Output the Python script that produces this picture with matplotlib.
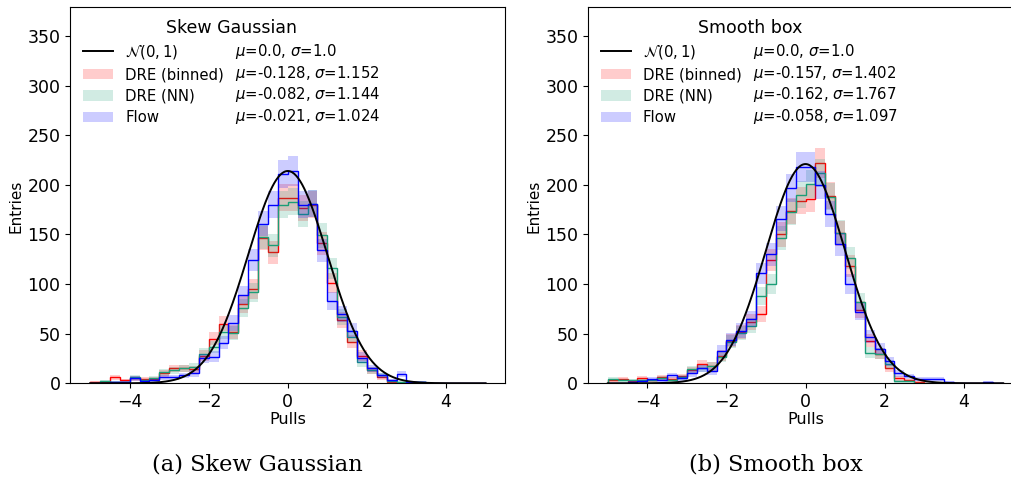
import numpy as np
import matplotlib
matplotlib.use("Agg")
import matplotlib.pyplot as plt
from matplotlib.patches import Patch
from matplotlib.lines import Line2D

# ---------------- data ----------------
bin_low, bin_high, bin_width = -5.0, 5.0, 0.25
edges = np.arange(bin_low, bin_high + bin_width / 2, bin_width)

panel_titles = ["Skew Gaussian", "Smooth box"]
captions = ["(a) Skew Gaussian", "(b) Smooth box"]
series_names = ["DRE (binned)", "DRE (NN)", "Flow"]
series_colors = ["#ff0000", "#1b9e77", "#0000ff"]

# left panel: Skew Gaussian (40 bins from -5 to 5)
skew_dre_binned = [1, 1, 6, 3, 5, 4, 4, 10, 15, 15, 14, 28, 45, 60, 52, 80, 95, 146, 132, 187,
                   187, 177, 180, 141, 101, 64, 42, 28, 13, 6, 1, 0, 1, 0, 0, 0, 0, 0, 0, 0]
skew_dre_nn = [0, 2, 1, 1, 6, 3, 5, 11, 13, 15, 16, 30, 37, 52, 51, 76, 92, 147, 139, 180,
               183, 171, 181, 149, 116, 67, 47, 21, 13, 8, 2, 1, 0, 1, 0, 0, 0, 0, 0, 0]
skew_flow = [0, 0, 1, 1, 5, 2, 3, 6, 6, 8, 10, 25, 27, 41, 61, 89, 124, 161, 180, 211,
             214, 180, 181, 134, 83, 70, 53, 26, 15, 8, 3, 9, 1, 1, 0, 0, 0, 0, 0, 0]

# right panel: Smooth box
box_dre_binned = [3, 4, 2, 5, 3, 6, 4, 7, 13, 19, 17, 28, 43, 52, 62, 70, 124, 150, 174, 184,
                  186, 222, 189, 151, 118, 74, 43, 30, 15, 5, 3, 1, 0, 0, 0, 0, 0, 0, 0, 0]
box_dre_nn = [4, 3, 3, 3, 3, 5, 3, 6, 14, 15, 17, 27, 42, 51, 58, 88, 100, 146, 173, 190,
              201, 212, 188, 152, 126, 82, 31, 30, 19, 2, 2, 0, 0, 0, 0, 0, 0, 0, 0, 0]
box_flow = [0, 0, 1, 2, 4, 3, 8, 5, 10, 15, 12, 33, 44, 53, 65, 111, 130, 166, 197, 218,
            218, 200, 171, 140, 100, 72, 47, 35, 22, 10, 7, 4, 4, 4, 1, 0, 0, 0, 1, 0]

stats_skew = [r"$\mu$=0.0, $\sigma$=1.0", r"$\mu$=-0.128, $\sigma$=1.152",
              r"$\mu$=-0.082, $\sigma$=1.144", r"$\mu$=-0.021, $\sigma$=1.024"]
stats_box = [r"$\mu$=0.0, $\sigma$=1.0", r"$\mu$=-0.157, $\sigma$=1.402",
             r"$\mu$=-0.162, $\sigma$=1.767", r"$\mu$=-0.058, $\sigma$=1.097"]

gauss_peak = [214, 221]  # height of the N(0,1) reference curve in each panel

x_ticks = [-4, -2, 0, 2, 4]
y_ticks = [0, 50, 100, 150, 200, 250, 300, 350]

panels = [
    dict(series=[skew_dre_binned, skew_dre_nn, skew_flow], stats=stats_skew),
    dict(series=[box_dre_binned, box_dre_nn, box_flow], stats=stats_box),
]

# ---------------- figure ----------------
W, H = 1011, 479
fig = plt.figure(figsize=(W / 100, H / 100), dpi=100)

ax_left_px = [70.3, 588.0]
ax_w_px, ax_top_px, ax_bot_px = 435.0, 7.3, 383.3
ax_h_px = ax_bot_px - ax_top_px


def ay(py):
    """figure-pixel row (from top) -> axes fraction"""
    return (ax_bot_px - py) / ax_h_px


row_px = [51.7, 73.3, 95.0, 116.0]
leg_fs = 10.7

for k, p in enumerate(panels):
    ax = fig.add_axes([ax_left_px[k] / W, (H - ax_bot_px) / H, ax_w_px / W, ax_h_px / H])
    for vals, col in zip(p["series"], series_colors):
        v = np.asarray(vals, dtype=float)
        err = np.sqrt(v)
        lo = np.append(v - err, (v - err)[-1])
        hi = np.append(v + err, (v + err)[-1])
        ax.fill_between(edges, lo, hi, step="post", color=col, alpha=0.2, lw=0)
        ax.stairs(v, edges, color=col, lw=1.0)
    xs = np.linspace(bin_low, bin_high, 400)
    ax.plot(xs, gauss_peak[k] * np.exp(-0.5 * xs ** 2), color="black", lw=1.4)

    ax.set_xlim(-5.5, 5.5)
    ax.set_ylim(0, 379)
    ax.set_xticks(x_ticks)
    ax.set_yticks(y_ticks)
    ax.tick_params(labelsize=12.5)
    ax.set_xlabel("Pulls", fontsize=11.5, labelpad=0.8)
    ax.set_ylabel("Entries", fontsize=11)
    ax.yaxis.set_label_coords(-0.108, 0.47)

    handles = [Line2D([], [], color="black", lw=1.4)]
    handles += [Patch(facecolor=c, alpha=0.2, lw=0) for c in series_colors]
    labels = [r"$\mathcal{N}(0, 1)$"] + series_names
    ax.legend(handles, labels, loc="center left", frameon=False, fontsize=leg_fs,
              handlelength=2.0, handletextpad=0.8, labelspacing=0.43,
              borderaxespad=0.0, borderpad=0.4,
              bbox_to_anchor=((77.5 - 70.3) / ax_w_px, ay(sum(row_px) / 4)))

    ax.text((232.0 - 70.3) / ax_w_px, ay(28.3), panel_titles[k], transform=ax.transAxes,
            ha="center", va="center", fontsize=12.5)
    for r, s in zip(row_px, p["stats"]):
        ax.text((235.0 - 70.3) / ax_w_px, ay(r), s, transform=ax.transAxes,
                ha="left", va="center", fontsize=leg_fs)

    cx = (ax_left_px[k] + 187.5) / W
    fig.text(cx, 1 - 465 / H, captions[k], ha="center", va="center",
             family="DejaVu Serif", fontsize=16.2)

fig.savefig("out.png", dpi=100)
